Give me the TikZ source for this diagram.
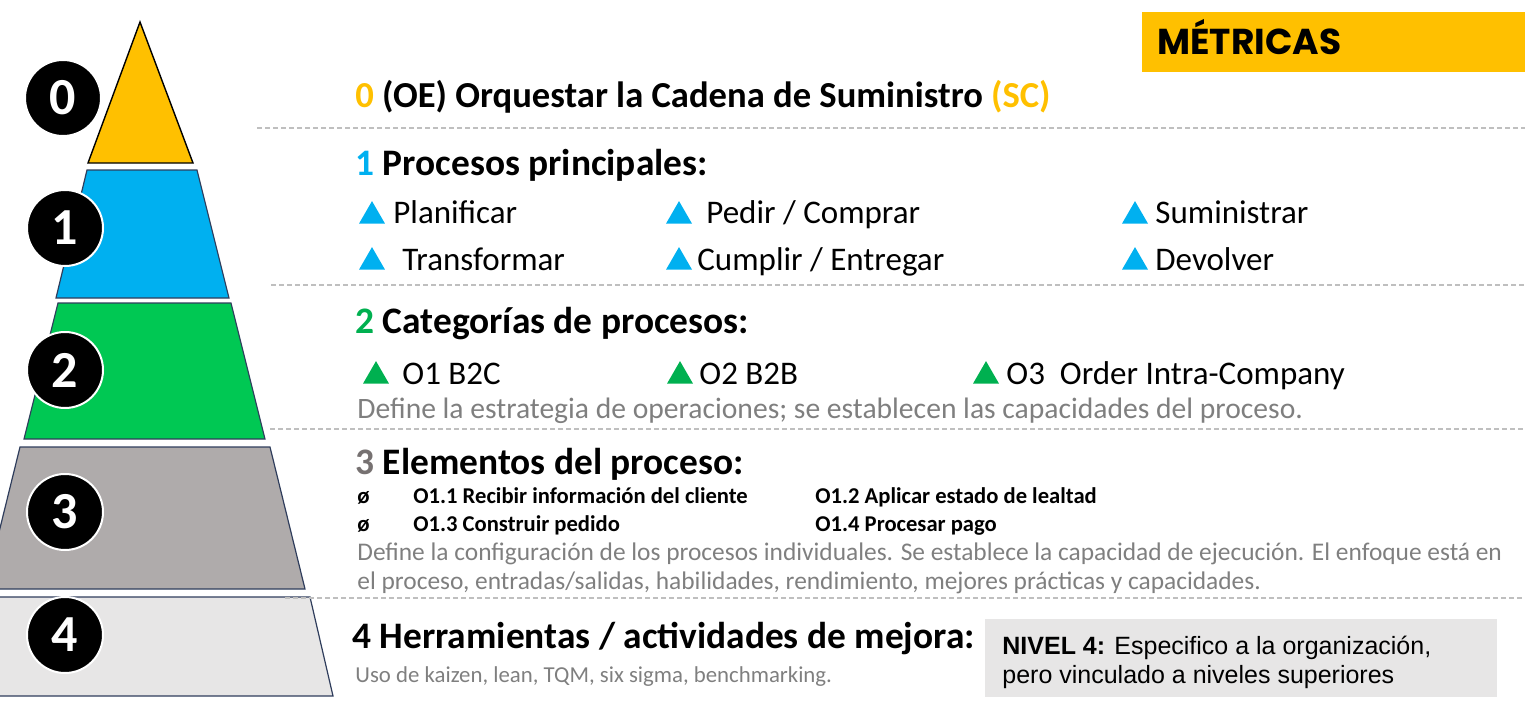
\documentclass[tikz,border=0pt]{standalone}
\usepackage{fontspec}
\setmainfont{Carlito}
\newfontfamily\arialfont{Liberation Sans}
\newfontfamily\popfont{Poppins}
\usetikzlibrary{shapes.geometric,positioning}
\definecolor{scOrange}{HTML}{FFC000}
\definecolor{scBlue}{HTML}{00B0F0}
\definecolor{scGreen}{HTML}{00B050}
\definecolor{layGreen}{HTML}{00C853}
\definecolor{layGray}{HTML}{AFABAB}
\definecolor{layLight}{HTML}{E7E6E6}
\definecolor{numGray}{HTML}{767171}
\definecolor{noteGray}{HTML}{7F7F7F}
\definecolor{sepGray}{HTML}{BFBFBF}
\definecolor{edgeNavy}{HTML}{2F3D5C}
\tikzset{every node/.append style={inner sep=0pt}}
\tikzset{num/.style={circle,fill=black,draw=white,line width=1pt,minimum size=38pt,text=white,font=\fontsize{26}{26}\selectfont\bfseries}}
\tikzset{tri/.style={regular polygon,regular polygon sides=3,fill=#1,minimum size=15pt,anchor=south}}
\tikzset{head/.style={anchor=base west,font=\fontsize{18.7}{18.7}\selectfont\bfseries}}
\tikzset{item/.style={anchor=base west,font=\fontsize{16.5}{16.5}\selectfont}}
\tikzset{note/.style={anchor=base west,text=noteGray,font=\fontsize{#1}{#1}\selectfont},note/.default=12.7}
\tikzset{elem/.style={anchor=base west,font=\fontsize{11.3}{11.3}\selectfont\bfseries}}
\tikzset{sep/.style={draw=sepGray,line width=0.8pt,dash pattern=on 2.5pt off 1.5pt}}
\tikzset{layer/.style={draw=edgeNavy,line width=0.6pt,fill=#1}}
\tikzset{nivel/.style={anchor=base west,font=\arialfont\fontsize{12.5}{12.5}\selectfont}}

\begin{document}
\begin{tikzpicture}[x=0.5pt,y=-0.5pt]
\useasboundingbox (0,0) rectangle (1525,701);
\pgfmathsetmacro{\XL}{355}
\pgfmathsetmacro{\XR}{1525}
\draw[draw=black,line width=0.7pt,fill=scOrange] (140,22)--(193,163)--(88,163)--cycle;
\draw[layer=scBlue] (87,170)--(197,170)--(229,298)--(56,298)--cycle;
\draw[layer=layGreen] (58,303)--(231,303)--(265,439)--(24,439)--cycle;
\draw[layer=layGray] (20,447)--(270,447)--(305,589)--(-15,589)--cycle;
\draw[layer=layLight] (-16,597)--(310,597)--(333,696)--(-39,696)--cycle;
\node[num] (c0) at (63,98) {0};
\node[num] (c1) at (65,228) {1};
\node[num] (c2) at (65,370) {2};
\node[num] (c3) at (65,512) {3};
\node[num] (c4) at (65,635) {4};
\draw[sep] (257,128)--(\XR,128);
\draw[sep] (271,285)--(\XR,285);
\draw[sep] (270,429)--(\XR,429);
\draw[sep] (285,598)--(\XR,598);
\fill[scOrange] (1142,12) rectangle (1525,72);
\node[anchor=base west,font=\popfont\fontsize{18}{18}\selectfont\bfseries] (metr) at (1157,55) {MÉTRICAS};
\node[head,font=\fontsize{18.3}{18.3}\selectfont\bfseries] (h0) at (\XL,108) {\textcolor{scOrange}{0} (OE) Orquestar la Cadena de Suministro \textcolor{scOrange}{(SC)}};
\node[head] (h1) at (\XL,176) {\textcolor{scBlue}{1} Procesos principales:};
\node[tri=scBlue] (t11) at (372,224) {};
\node[tri=scBlue] (t12) at (679,224) {};
\node[tri=scBlue] (t13) at (1135,224) {};
\node[tri=scBlue] (t21) at (372,270) {};
\node[tri=scBlue] (t22) at (679,270) {};
\node[tri=scBlue] (t23) at (1135,270) {};
\node[item] (p1) at (393,223) {Planificar};
\node[item] (p2) at (706,223) {Pedir / Comprar};
\node[item] (p3) at (1155,223) {Suministrar};
\node[item] (p4) at (402,270) {Transformar};
\node[item] (p5) at (697,270) {Cumplir / Entregar};
\node[item] (p6) at (1155,270) {Devolver};
\node[head] (h2) at (\XL,333) {\textcolor{scGreen}{2} Categorías de procesos:};
\node[tri=scGreen] (g1) at (376,384) {};
\node[tri=scGreen] (g2) at (680,384) {};
\node[tri=scGreen] (g3) at (986,384) {};
\node[item] (o1) at (402,384) {O1 B2C};
\node[item] (o2) at (699,384) {O2 B2B};
\node[item] (o3) at (1006,384) {O3\ \ Order Intra-Company};
\node[note=14.8] (n2) at (357,418) {Define la estrategia de operaciones; se establecen las capacidades del proceso.};
\node[head] (h3) at (\XL,474) {\textcolor{numGray}{3} Elementos del proceso:};
\node[elem] (b1) at (357,503) {ø};
\node[elem] (e1) at (413,503) {O1.1 Recibir información del cliente};
\node[elem] (e2) at (815,503) {O1.2 Aplicar estado de lealtad};
\node[elem] (b2) at (357,531) {ø};
\node[elem] (e3) at (413,531) {O1.3 Construir pedido};
\node[elem] (e4) at (815,531) {O1.4 Procesar pago};
\node[note] (n3a) at (357,560) {Define la configuración de los procesos individuales. Se establece la capacidad de ejecución. El enfoque está en};
\node[note] (n3b) at (357,589) {el proceso, entradas/salidas, habilidades, rendimiento, mejores prácticas y capacidades.};
\node[head] (h4) at (352,648) {4 Herramientas / actividades de mejora:};
\node[note=11.4] (n4) at (355,682) {Uso de kaizen, lean, TQM, six sigma, benchmarking.};
\fill[layLight] (985,619) rectangle (1497,697);
\node[nivel] (niv1) at (1002,654) {\textbf{NIVEL 4:} Especifico a la organización,};
\node[nivel] (niv2) at (1002,683) {pero vinculado\ a niveles\ superiores};
\end{tikzpicture}
\end{document}
